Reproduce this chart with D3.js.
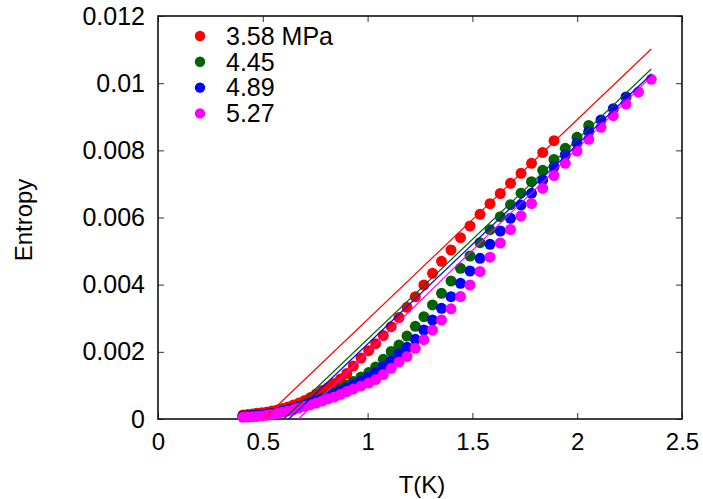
<!DOCTYPE html>
<html>
<head>
<meta charset="utf-8">
<script src="https://cdn.jsdelivr.net/npm/d3@7"></script>
<style>
  html, body { margin: 0; padding: 0; background: #fff; }
  svg { display: block; font-family: "Liberation Sans", Arial, sans-serif; }
</style>
</head>
<body>
<svg id="chart" width="703" height="499"></svg>
<script>
// Temperature grid shared by all measurement series (K)
const temps = [
  0.4055, 0.4275, 0.4500, 0.4723, 0.4962, 0.5200, 0.5439, 0.5687, 0.5940, 0.6202,
  0.6465, 0.6727, 0.6999, 0.7276, 0.7552, 0.7834, 0.8120, 0.8411, 0.8707, 0.9008,
  0.9318, 0.9685, 1.0052, 1.0386, 1.0749, 1.1126, 1.1498, 1.1880, 1.2276, 1.2686,
  1.3096, 1.3526, 1.3979, 1.4432, 1.4885, 1.5363, 1.5840, 1.6331, 1.6818, 1.7319,
  1.7820, 1.8354, 1.8893, 1.9432, 1.9990, 2.0549, 2.1135, 2.1722, 2.2328, 2.2925,
  2.3535
];

// Entropy per pressure (first N temperatures of the grid)
const entropy358 = [
  0.000119, 0.000134, 0.000149, 0.000170, 0.000188, 0.000208, 0.000238, 0.000268, 0.000313, 0.000357,
  0.000417, 0.000476, 0.000551, 0.000640, 0.000744, 0.000849, 0.000938, 0.001057, 0.001191, 0.001355,
  0.001578, 0.001816, 0.002034, 0.002242, 0.002486, 0.002748, 0.003022, 0.003326, 0.003642, 0.003990,
  0.004338, 0.004696, 0.005032, 0.005399, 0.005747, 0.006095, 0.006411, 0.006715, 0.007018, 0.007316,
  0.007614, 0.007936, 0.008287
];
const entropy445 = [
  0.0000893, 0.0000953, 0.000104, 0.000116, 0.000131, 0.000149, 0.000173, 0.000202, 0.000238, 0.000277,
  0.000319, 0.000369, 0.000423, 0.000482, 0.000548, 0.000625, 0.000706, 0.000789, 0.000893, 0.001006,
  0.001117, 0.001248, 0.001382, 0.001548, 0.001778, 0.002010, 0.002203, 0.002471, 0.002760, 0.003046,
  0.003395, 0.003743, 0.004109, 0.004487, 0.004854, 0.005250, 0.005637, 0.006024, 0.006381, 0.006724,
  0.007066, 0.007406, 0.007727, 0.008061, 0.008388, 0.008740
];
const entropy489 = [
  0.0000804, 0.0000864, 0.0000953, 0.000107, 0.000122, 0.000140, 0.000164, 0.000194, 0.000229, 0.000268,
  0.000310, 0.000360, 0.000414, 0.000467, 0.000524, 0.000593, 0.000661, 0.000733, 0.000825, 0.000923,
  0.001018, 0.001132, 0.001245, 0.001370, 0.001557, 0.001727, 0.001935, 0.002135, 0.002373, 0.002650,
  0.002948, 0.003296, 0.003642, 0.004041, 0.004407, 0.004785, 0.005202, 0.005598, 0.005976, 0.006372,
  0.006721, 0.007117, 0.007510, 0.007861, 0.008209, 0.008555, 0.008903, 0.009240, 0.009588
];
const entropy527 = [
  0.0000506, 0.0000566, 0.0000655, 0.0000774, 0.0000923, 0.000110, 0.000134, 0.000164, 0.000200, 0.000238,
  0.000280, 0.000328, 0.000378, 0.000426, 0.000476, 0.000536, 0.000596, 0.000655, 0.000735, 0.000819,
  0.000893, 0.000983, 0.001072, 0.001176, 0.001325, 0.001510, 0.001697, 0.001861, 0.002105, 0.002361,
  0.002650, 0.002948, 0.003281, 0.003648, 0.003990, 0.004392, 0.004818, 0.005241, 0.005643, 0.006045,
  0.006417, 0.006864, 0.007251, 0.007614, 0.007980, 0.008329, 0.008686, 0.009032, 0.009380, 0.009737,
  0.010115
];

// Linear high-temperature fits: [T, S] at the zero crossing and at the end
const fit358 = [[0.5024, 0], [2.3535, 0.011017]];
const fit445 = [[0.6002, 0], [2.3535, 0.010422]];
const fit489 = [[0.6240, 0], [2.3535, 0.010267]];
const fit527 = [[0.6703, 0], [2.3535, 0.010193]];

const seriesLabels = ["3.58 MPa", "4.45", "4.89", "5.27"];
const seriesColors = ["#ff0000", "#006400", "#0000ff", "#ff00ff"];

const xTicks = [0, 0.5, 1, 1.5, 2, 2.5];
const yTicks = [0, 0.002, 0.004, 0.006, 0.008, 0.01, 0.012];

const series = [entropy358, entropy445, entropy489, entropy527].map((vals, i) => ({
  label: seriesLabels[i],
  color: seriesColors[i],
  points: vals.map((s, j) => ({ t: temps[j], s: s }))
}));
const fits = [fit358, fit445, fit489, fit527];

const svg = d3.select("#chart");
const W = 703, H = 499;
const plot = { left: 158, right: 682, top: 16, bottom: 419 };

svg.append("rect").attr("width", W).attr("height", H).attr("fill", "#fff");

const x = d3.scaleLinear().domain([0, 2.5]).range([plot.left, plot.right]);
const y = d3.scaleLinear().domain([0, 0.012]).range([plot.bottom, plot.top]);

const fmt = d => String(+d.toFixed(3));
const tickLen = 6;

// Bottom axis with labels, ticks pointing inward
const gx = svg.append("g")
  .attr("transform", `translate(0,${plot.bottom})`)
  .call(d3.axisBottom(x).tickValues(xTicks).tickFormat(fmt).tickSizeInner(-tickLen).tickSizeOuter(0).tickPadding(14));
// Left axis with labels
const gy = svg.append("g")
  .attr("transform", `translate(${plot.left},0)`)
  .call(d3.axisLeft(y).tickValues(yTicks).tickFormat(fmt).tickSizeInner(-tickLen).tickSizeOuter(0).tickPadding(13));
// Mirrored ticks on top and right
const gxt = svg.append("g")
  .attr("transform", `translate(0,${plot.top})`)
  .call(d3.axisTop(x).tickValues(xTicks).tickFormat("").tickSizeInner(-tickLen).tickSizeOuter(0));
const gyr = svg.append("g")
  .attr("transform", `translate(${plot.right},0)`)
  .call(d3.axisRight(y).tickValues(yTicks).tickFormat("").tickSizeInner(-tickLen).tickSizeOuter(0));

[gx, gy, gxt, gyr].forEach(g => {
  g.select(".domain").remove();
  g.selectAll(".tick line").attr("stroke", "#333").attr("stroke-width", 1);
  g.selectAll(".tick text")
    .attr("fill", "#000")
    .style("font-family", "'Liberation Sans', Arial, sans-serif");
});
gx.selectAll(".tick text").style("font-size", "24px");
gy.selectAll(".tick text").style("font-size", "25px");

// Frame
svg.append("rect")
  .attr("x", plot.left).attr("y", plot.top)
  .attr("width", plot.right - plot.left).attr("height", plot.bottom - plot.top)
  .attr("fill", "none").attr("stroke", "#111").attr("stroke-width", 1.6);

// Measured points
const r = 5.5;
series.forEach(sr => {
  svg.append("g").selectAll("circle")
    .data(sr.points)
    .join("circle")
    .attr("cx", d => x(d.t))
    .attr("cy", d => y(d.s))
    .attr("r", r)
    .attr("fill", sr.color);
});

// Fit lines
const line = d3.line().x(d => x(d[0])).y(d => y(d[1]));
fits.forEach((f, i) => {
  svg.append("path")
    .attr("d", line(f))
    .attr("fill", "none")
    .attr("stroke", seriesColors[i])
    .attr("stroke-width", 1.2);
});

// Legend
const legend = svg.append("g").attr("transform", "translate(200,36)");
series.forEach((sr, i) => {
  const row = legend.append("g").attr("transform", `translate(0,${i * 25.8})`);
  row.append("circle").attr("r", 5.2).attr("fill", sr.color);
  row.append("text")
    .attr("x", 26).attr("y", 0).attr("dy", "0.35em")
    .style("font-size", "25px")
    .attr("fill", "#000")
    .text(sr.label);
});

// Axis titles
svg.append("text")
  .attr("x", 422).attr("y", 493)
  .attr("text-anchor", "middle")
  .style("font-size", "24px")
  .text("T(K)");
svg.append("text")
  .attr("transform", "translate(32,220) rotate(-90)")
  .attr("text-anchor", "middle")
  .style("font-size", "24px")
  .text("Entropy");
</script>
</body>
</html>
